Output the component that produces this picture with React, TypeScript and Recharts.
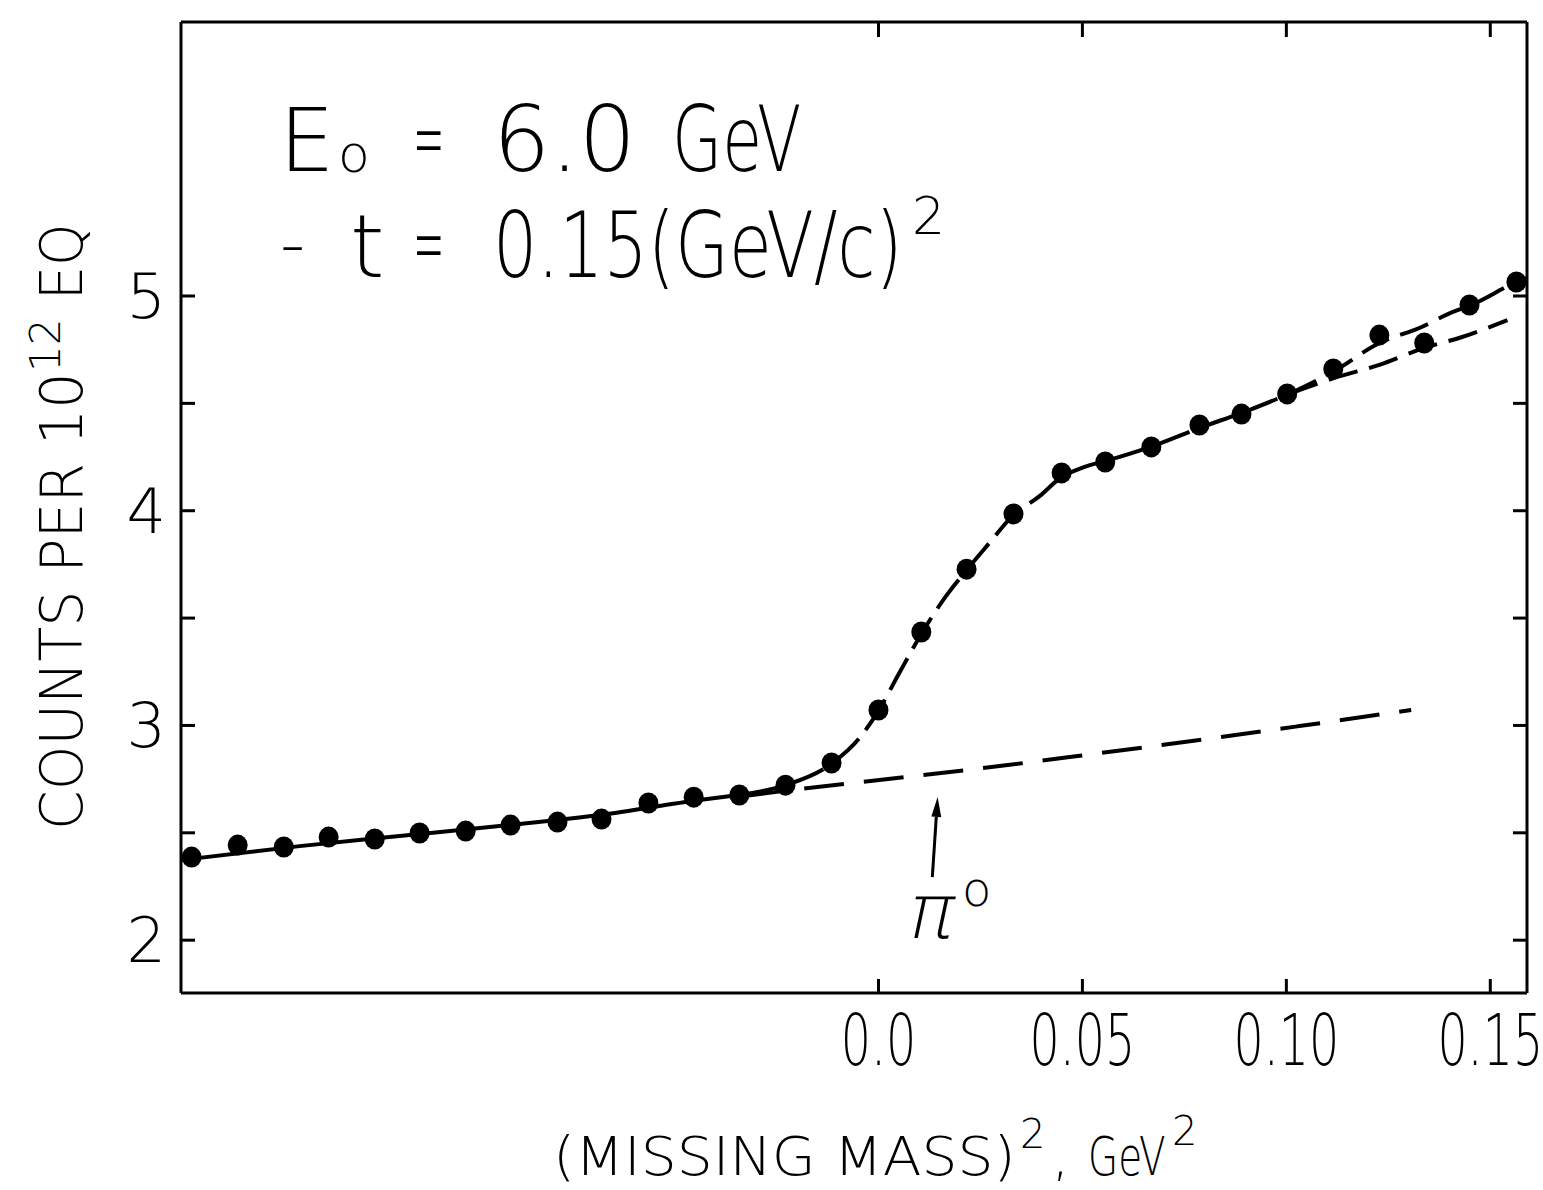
import React from "react";
import {
  ComposedChart,
  Line,
  Scatter,
  XAxis,
  YAxis,
  ReferenceLine,
} from "recharts";

// measured points, (missing mass)^2 in GeV^2 vs counts per 10^12 EQ
const pointX = [
  -0.1684, -0.1571, -0.1458, -0.1348, -0.1235, -0.1125, -0.1012, -0.0902, -0.0787, -0.0679,
  -0.0564, -0.0453, -0.0341, -0.0228, -0.0115, 0.0, 0.0105, 0.0216, 0.0331, 0.0449,
  0.0556, 0.0669, 0.0787, 0.089, 0.1002, 0.1115, 0.1228, 0.1338, 0.1449, 0.1564,
];
const pointY = [
  2.387, 2.443, 2.434, 2.48, 2.471, 2.499, 2.508, 2.536, 2.55, 2.564,
  2.639, 2.666, 2.676, 2.722, 2.825, 3.072, 3.435, 3.728, 3.985, 4.176,
  4.227, 4.297, 4.399, 4.45, 4.544, 4.66, 4.818, 4.781, 4.958, 5.065,
];

// fitted curve: solid part, then dashed rise
const fitSolidX = [-0.1711, -0.1419, -0.1174, -0.0929, -0.0684, -0.0439, -0.0328];
const fitSolidY = [2.373, 2.438, 2.485, 2.532, 2.583, 2.653, 2.68];

const fitRiseX = [
  -0.0328, -0.0228, -0.0113, -0.0047, -0.0002, 0.0051, 0.0105, 0.0162, 0.0218, 0.0272,
  0.0328, 0.0395, 0.0446, 0.0505, 0.0556, 0.0667, 0.0787, 0.0909, 0.1007,
];
const fitRiseY = [
  2.68, 2.722, 2.825, 2.941, 3.062, 3.244, 3.426, 3.593, 3.728, 3.85,
  3.975, 4.068, 4.152, 4.204, 4.231, 4.297, 4.385, 4.469, 4.544,
];

// the two branches at the high end
const upperX = [0.1007, 0.1118, 0.1228, 0.1326, 0.1407, 0.1453, 0.1564, 0.1588];
const upperY = [4.544, 4.651, 4.781, 4.851, 4.925, 4.958, 5.065, 5.084];
const lowerX = [0.1007, 0.1125, 0.1228, 0.1338, 0.1431, 0.1542];
const lowerY = [4.544, 4.623, 4.679, 4.758, 4.809, 4.888];

// background under the pi0 peak
const bgX = [-0.0328, -0.0194, 0.0002, 0.0297, 0.0542, 0.0787, 0.1032, 0.1306];
const bgY = [2.671, 2.704, 2.746, 2.811, 2.871, 2.932, 2.997, 3.072];

const xTicks = [0, 0.05, 0.1, 0.15];
const xTickLabels = ["0.0", "0.05", "0.10", "0.15"];
const yTicks = [2, 2.5, 3, 3.5, 4, 4.5, 5];

// arrow marking the pi0 position
const arrowX = [0.0132, 0.0145];
const arrowY = [2.294, 2.667];

const zip = (xs: number[], ys: number[]) => xs.map((x, i) => ({ x, y: ys[i] }));

const points = zip(pointX, pointY);
const fitSolid = zip(fitSolidX, fitSolidY);
const fitRise = zip(fitRiseX, fitRiseY);
const upper = zip(upperX, upperY);
const lower = zip(lowerX, lowerY);
const background = zip(bgX, bgY);

const X_DOMAIN: [number, number] = [-0.171, 0.159];
const Y_DOMAIN: [number, number] = [1.754, 6.276];

const FONT = "'DejaVu Sans', 'Liberation Sans', sans-serif";

// text squeezed horizontally, the lettering in the figure is narrow
function SText({ x, y, sx = 1, size, children }: any) {
  return (
    <text transform={`translate(${x},${y}) scale(${sx},1)`} fontSize={size}>
      {children}
    </text>
  );
}

function XTick(props: any) {
  const { x, y, payload } = props;
  const label = xTickLabels[xTicks.indexOf(payload.value)] ?? "";
  return (
    <text
      transform={`translate(${x},${y}) scale(0.66,1)`}
      dy="0.71em"
      textAnchor="middle"
      fontSize={72}
      fontFamily={FONT}
      fontWeight={200}
      fill="#000"
    >
      {label}
    </text>
  );
}

// mirror axes keep their tick marks but show no labels
const NoLabel = () => <g />;

function Arrow(props: any) {
  const { x1, y1, x2, y2 } = props;
  const dx = x2 - x1;
  const dy = y2 - y1;
  const len = Math.sqrt(dx * dx + dy * dy);
  const ux = dx / len;
  const uy = dy / len;
  const bx = x2 - ux * 20;
  const by = y2 - uy * 20;
  const head = `${x2},${y2} ${bx - uy * 5},${by + ux * 5} ${bx + uy * 5},${by - ux * 5}`;
  return (
    <g>
      <line x1={x1} y1={y1} x2={bx} y2={by} stroke="#000" strokeWidth={3} />
      <polygon points={head} fill="#000" />
    </g>
  );
}

export default function App() {
  const lineProps = {
    dataKey: "y",
    type: "monotone" as const,
    stroke: "#000",
    strokeWidth: 4,
    dot: false,
    activeDot: false,
    isAnimationActive: false,
  };
  const axisStroke = { stroke: "#000", strokeWidth: 3 };

  return (
    <div style={{ position: "absolute", left: 0, top: 0, width: 1543, height: 1190, background: "#fff" }}>
      <ComposedChart width={1543} height={1190} margin={{ top: 21, right: 15, bottom: 87, left: 91 }}>
        <XAxis
          xAxisId="b"
          type="number"
          dataKey="x"
          domain={X_DOMAIN}
          allowDataOverflow
          ticks={xTicks}
          height={110}
          tickSize={-14}
          tickMargin={35}
          axisLine={axisStroke}
          tickLine={axisStroke}
          tick={<XTick />}
        />
        <XAxis
          xAxisId="t"
          orientation="top"
          type="number"
          dataKey="x"
          domain={X_DOMAIN}
          allowDataOverflow
          ticks={xTicks}
          height={1}
          tickSize={-15}
          tick={<NoLabel />}
          axisLine={axisStroke}
          tickLine={axisStroke}
        />
        <YAxis
          yAxisId="l"
          type="number"
          dataKey="y"
          domain={Y_DOMAIN}
          allowDataOverflow
          ticks={yTicks}
          tickFormatter={(v: number) => (Number.isInteger(v) ? String(v) : "")}
          width={90}
          tickSize={-14}
          tickMargin={29}
          axisLine={axisStroke}
          tickLine={axisStroke}
          tick={{ fill: "#000", fontSize: 62, fontFamily: FONT, fontWeight: 200 }}
        />
        <YAxis
          yAxisId="r"
          orientation="right"
          type="number"
          dataKey="y"
          domain={Y_DOMAIN}
          allowDataOverflow
          ticks={yTicks}
          width={1}
          tickSize={-14}
          tick={<NoLabel />}
          axisLine={axisStroke}
          tickLine={axisStroke}
        />

        <Line {...lineProps} xAxisId="b" yAxisId="l" data={background} strokeDasharray="40 20" />
        <Line {...lineProps} xAxisId="b" yAxisId="l" data={fitSolid} />
        <Line {...lineProps} xAxisId="b" yAxisId="l" data={fitRise} strokeDasharray="36 11" />
        {/* the two branches are tied to the top/right axes (same domains) */}
        <Line {...lineProps} xAxisId="t" yAxisId="r" data={upper} strokeDasharray="30 12" />
        <Line {...lineProps} xAxisId="t" yAxisId="r" data={lower} strokeDasharray="30 12" />

        <Scatter
          xAxisId="b"
          yAxisId="l"
          data={points}
          fill="#000"
          isAnimationActive={false}
          shape={(p: any) => <ellipse cx={p.cx} cy={p.cy} rx={10} ry={10.5} fill="#000" />}
        />

        <ReferenceLine
          xAxisId="b"
          yAxisId="l"
          segment={zip(arrowX, arrowY)}
          stroke="#000"
          shape={Arrow}
        />
      </ComposedChart>

      <svg
        width={1543}
        height={1190}
        style={{ position: "absolute", left: 0, top: 0, pointerEvents: "none" }}
        fontFamily={FONT}
        fontWeight={200}
        fill="#000"
      >
        {/* in-plot annotation */}
        <SText x={279} y={171} size={88}>E</SText>
        <SText x={338} y={172} size={52}>o</SText>
        <SText x={413} y={170} sx={0.4} size={94}>=</SText>
        <SText x={493} y={171} size={90}>6.0</SText>
        <SText x={672} y={171} sx={0.72} size={90}>GeV</SText>

        <SText x={280} y={268} size={70}>-</SText>
        <SText x={350} y={277} size={88}>t</SText>
        <SText x={413} y={275} sx={0.4} size={94}>=</SText>
        <SText x={493} y={277} sx={0.773} size={90}>0.15(GeV/c)</SText>
        <SText x={912} y={234} size={52}>2</SText>

        {/* pi0 label */}
        <text x={905} y={938} fontSize={76} transform="skewX(-12) translate(199,0)">π</text>
        <SText x={962} y={906} size={48}>o</SText>

        {/* x axis title */}
        <SText x={553} y={1175} sx={1.05} size={54}>(MISSING  MASS)</SText>
        <SText x={1020} y={1148} size={40}>2</SText>
        <SText x={1052} y={1175} size={54}>,</SText>
        <SText x={1088} y={1175} sx={0.72} size={54}>GeV</SText>
        <SText x={1172} y={1145} size={40}>2</SText>

        {/* y axis title */}
        <g transform="translate(82, 830) rotate(-90)">
          <SText x={0} y={0} sx={0.98} size={58}>COUNTS  PER  10</SText>
          <SText x={458} y={-22} size={42}>12</SText>
          <SText x={530} y={0} sx={0.93} size={58}>EQ</SText>
        </g>
      </svg>
    </div>
  );
}
